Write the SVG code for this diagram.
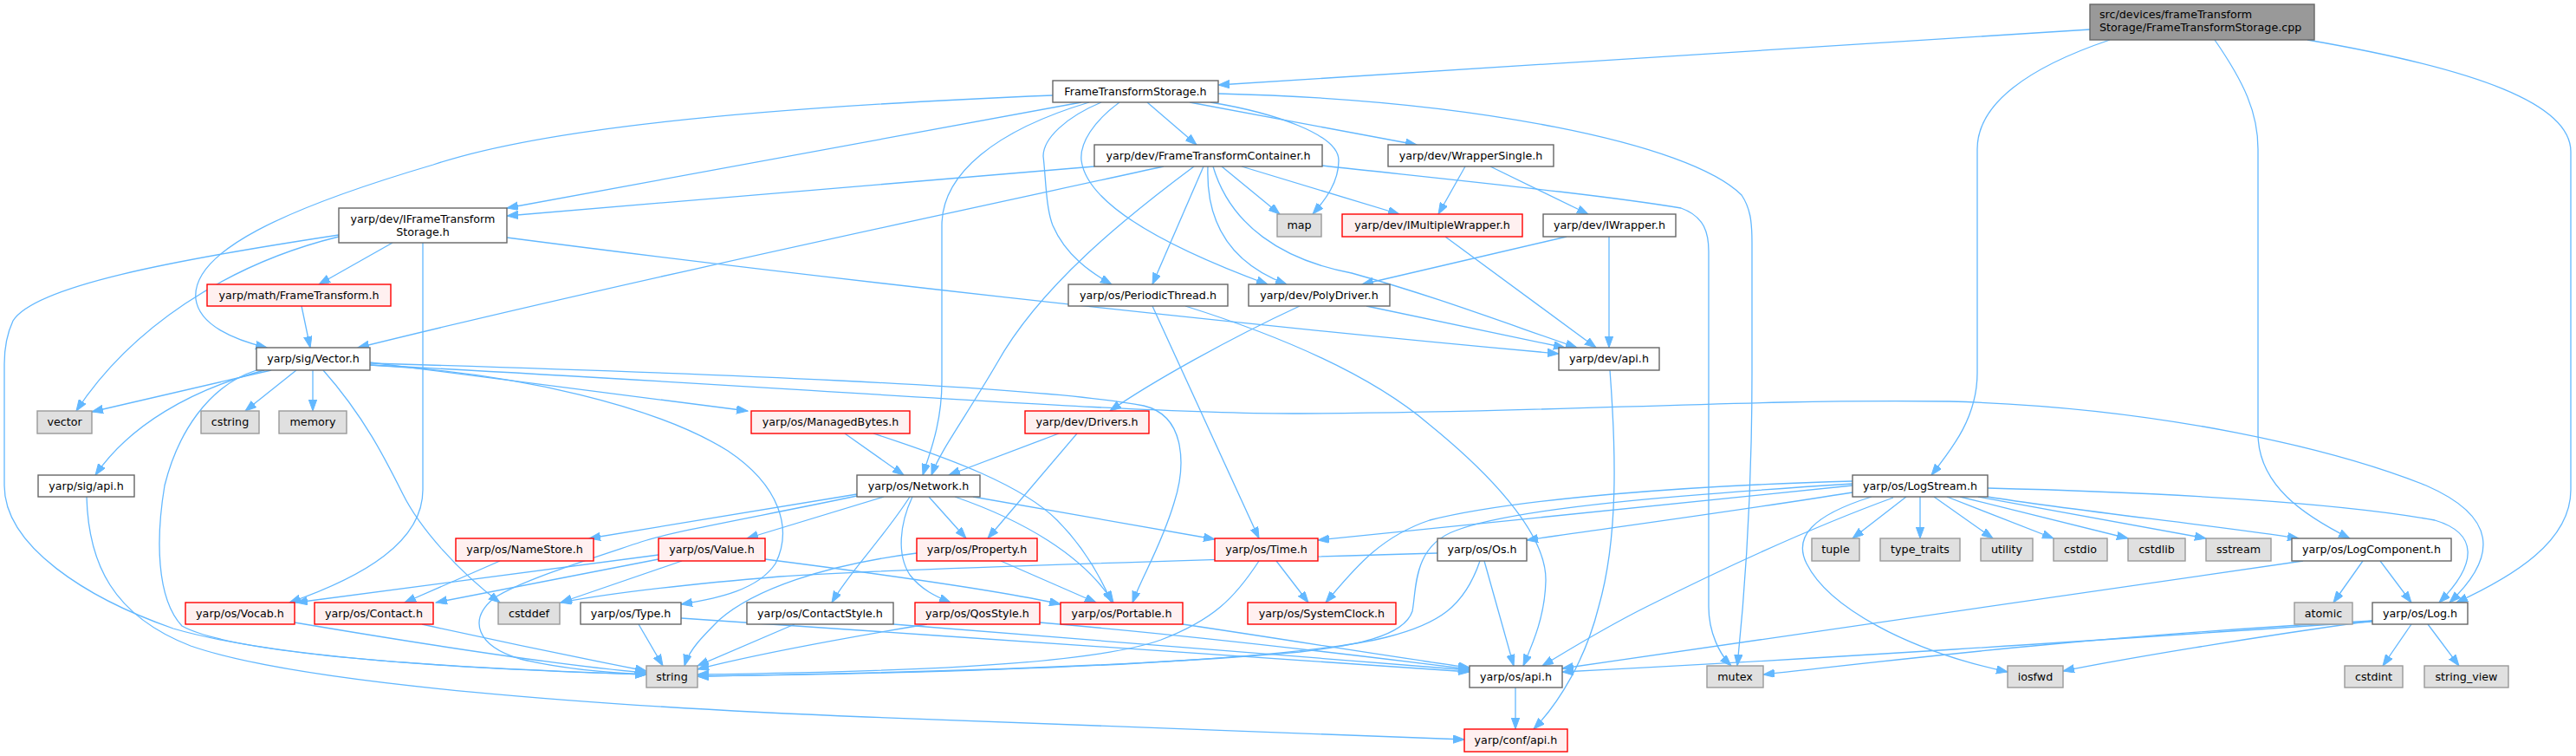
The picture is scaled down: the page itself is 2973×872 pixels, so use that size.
<svg xmlns="http://www.w3.org/2000/svg" width="2973" height="872" viewBox="0 0 2973 872">
<style>
.n{fill:#ffffff;stroke:#666666;stroke-width:1.4}
.r{fill:#fff0f0;stroke:#ff0000;stroke-width:1.4}
.x{fill:#e0e0e0;stroke:#999999;stroke-width:1.4}
.rt{fill:#999999;stroke:#666666;stroke-width:1.4}
text{font-family:"DejaVu Sans","Liberation Sans",sans-serif;font-size:12.7px;fill:#000000}
.c{text-anchor:middle}
#edges path{fill:none;stroke:#63b8ff;stroke-width:1.3;marker-end:url(#ah)}
</style>
<defs>
<marker id="ah" markerUnits="userSpaceOnUse" markerWidth="14" markerHeight="10" refX="13" refY="4.7" orient="auto">
<path d="M0,0 L13,4.7 L0,9.4 z" fill="#63b8ff" stroke="#63b8ff" stroke-width="1"/>
</marker>
</defs>
<rect width="2973" height="872" fill="#ffffff"/>
<g id="edges">
<path d="M2412,34 L1406,98"/>
<path d="M2435,46 C2340,78 2282,120 2282,172 L2282,430 C2282,480 2255,515 2229,548"/>
<path d="M2556,46 C2590,95 2606,130 2606,172 L2606,500 C2606,560 2660,595 2712,621"/>
<path d="M2663,46 C2860,80 2967,120 2967,175 L2967,565 C2967,625 2900,665 2835,695"/>
<path d="M1248,118 L585,240"/>
<path d="M1215,110 C850,125 620,150 500,190 C330,240 220,290 226,345 C230,375 270,392 308,401"/>
<path d="M1257,118 C1150,150 1087,200 1087,260 L1087,440 C1087,490 1072,525 1065,548"/>
<path d="M1271,118 C1230,135 1204,160 1204,180 C1207,205 1207,240 1215,260 C1230,295 1260,315 1283,328"/>
<path d="M1292,118 C1262,140 1246,165 1248,185 C1255,240 1360,290 1463,328"/>
<path d="M1324,118 L1381,167"/>
<path d="M1373,118 L1635,167"/>
<path d="M1397,118 C1470,130 1545,155 1545,185 C1545,210 1530,230 1515,247"/>
<path d="M1406,108 C1700,115 1950,165 2010,225 C2020,240 2022,255 2022,280 L2022,430 C2022,600 2010,720 2005,768"/>
<path d="M1263,192 L585,249"/>
<path d="M1343,192 C1100,245 700,330 413,401"/>
<path d="M1378,192 C1300,250 1200,330 1150,420 C1115,480 1085,520 1075,548"/>
<path d="M1389,192 L1330,328"/>
<path d="M1394,192 C1392,245 1410,300 1485,328"/>
<path d="M1400,192 C1420,260 1480,300 1560,315 C1650,340 1730,370 1820,401"/>
<path d="M1410,192 L1477,247"/>
<path d="M1433,192 L1615,247"/>
<path d="M1526,191 C1700,210 1850,225 1940,240 C1968,250 1972,270 1972,290 L1972,700 C1972,730 1985,755 1998,768"/>
<path d="M1691,192 L1660,247"/>
<path d="M1720,192 L1833,247"/>
<path d="M1668,273 L1842,401"/>
<path d="M1808,273 L1572,328"/>
<path d="M1857,273 L1857,401"/>
<path d="M1577,353 L1806,401"/>
<path d="M1500,353 C1420,390 1330,440 1281,474"/>
<path d="M585,274 C900,315 1400,372 1799,408"/>
<path d="M1330,353 L1453,621"/>
<path d="M1368,353 C1470,385 1580,430 1650,490 C1730,555 1785,620 1784,670 C1783,710 1770,740 1758,768"/>
<path d="M348,353 L358,401"/>
<path d="M453,280 L368,328"/>
<path d="M391,273 C260,305 150,380 88,474"/>
<path d="M391,271 C200,300 40,330 15,370 C8,385 5,400 5,420 L5,560 C5,630 100,690 200,725 C320,760 550,772 746,778"/>
<path d="M488,280 L488,565 C488,625 420,665 334,695"/>
<path d="M313,427 L106,475"/>
<path d="M305,427 C220,450 150,490 110,548"/>
<path d="M296,427 C240,445 205,500 190,560 C180,620 180,690 210,722 C270,755 500,770 746,778"/>
<path d="M342,427 L283,474"/>
<path d="M361,427 L361,474"/>
<path d="M373,427 C420,480 445,530 465,570 C485,610 530,660 577,695"/>
<path d="M427,418 C600,440 750,460 863,474"/>
<path d="M427,421 C600,430 760,470 840,520 C900,560 915,610 895,650 C875,680 830,690 786,697"/>
<path d="M427,419 C800,430 1200,445 1320,468 C1370,480 1368,540 1355,580 C1340,630 1318,665 1307,695"/>
<path d="M427,421 C900,445 1300,478 1500,477 C1800,476 2000,460 2250,463 C2500,470 2700,520 2800,560 C2880,595 2885,640 2827,695"/>
<path d="M100,573 C102,650 130,710 220,745 C350,790 700,815 1000,827 C1300,840 1500,847 1690,853"/>
<path d="M975,500 L1043,548"/>
<path d="M1008,500 C1100,530 1180,560 1220,600 C1250,630 1270,665 1283,695"/>
<path d="M1222,500 L1095,548"/>
<path d="M1243,500 L1140,621"/>
<path d="M989,570 L680,621"/>
<path d="M1020,573 L862,621"/>
<path d="M989,572 C880,595 780,612 740,625 C680,645 600,670 570,690 C540,715 550,745 600,760 C650,772 700,776 746,778"/>
<path d="M1050,573 C1020,620 980,660 960,695"/>
<path d="M1053,573 C1038,605 1035,640 1050,663 C1063,680 1080,688 1097,695"/>
<path d="M1072,573 L1115,621"/>
<path d="M1102,573 C1180,600 1250,640 1285,695"/>
<path d="M1123,573 L1402,622"/>
<path d="M577,647 L467,695"/>
<path d="M760,640 C600,660 450,680 342,695"/>
<path d="M760,645 L503,695"/>
<path d="M787,647 L647,695"/>
<path d="M883,645 C1000,660 1150,680 1224,697"/>
<path d="M1155,647 L1265,695"/>
<path d="M1058,638 C950,652 870,680 830,715 C810,735 795,750 790,768"/>
<path d="M1473,647 L1510,695"/>
<path d="M1453,647 C1425,690 1400,715 1340,738 C1250,770 1000,775 805,778"/>
<path d="M1713,647 L1747,768"/>
<path d="M1708,647 C1690,700 1660,720 1600,735 C1500,760 1200,775 805,780"/>
<path d="M1659,638 C1300,648 1000,658 900,665 C780,675 700,685 647,695"/>
<path d="M340,718 C500,745 650,768 746,776"/>
<path d="M487,720 C600,745 700,765 746,774"/>
<path d="M737,720 L765,768"/>
<path d="M786,713 C1100,735 1500,760 1696,775"/>
<path d="M917,720 L805,768"/>
<path d="M1031,720 C1300,740 1550,760 1696,773"/>
<path d="M1070,720 C950,740 870,755 805,772"/>
<path d="M1200,718 C1400,735 1600,760 1696,772"/>
<path d="M1365,720 C1500,740 1620,760 1696,770"/>
<path d="M2200,573 L2138,621"/>
<path d="M2216,573 L2216,621"/>
<path d="M2232,573 L2300,621"/>
<path d="M2247,573 L2370,621"/>
<path d="M2262,573 L2456,621"/>
<path d="M2283,573 L2546,621"/>
<path d="M2294,573 C2400,590 2550,605 2653,621"/>
<path d="M2294,563 C2500,568 2700,580 2810,600 C2860,615 2860,650 2815,695"/>
<path d="M2160,573 C2090,595 2070,620 2085,650 C2110,700 2200,750 2317,775"/>
<path d="M2185,574 C2100,605 2000,650 1900,700 C1850,725 1810,750 1780,768"/>
<path d="M2138,568 C2000,590 1850,610 1762,623"/>
<path d="M2138,560 L1521,623"/>
<path d="M2138,555 C1950,560 1750,575 1650,600 C1590,620 1560,660 1530,695"/>
<path d="M2138,558 C1950,570 1750,585 1680,612 C1630,630 1635,680 1630,705 C1620,735 1560,745 1500,752 C1300,770 1000,777 805,780"/>
<path d="M2727,647 L2693,695"/>
<path d="M2747,647 L2783,695"/>
<path d="M2658,647 L1803,771"/>
<path d="M2783,720 L2750,768"/>
<path d="M2802,720 L2838,768"/>
<path d="M2738,717 C2400,740 2100,760 1803,775"/>
<path d="M2738,716 C2400,735 2200,760 2035,778"/>
<path d="M2738,716 C2600,735 2450,760 2381,774"/>
<path d="M1858,427 C1865,520 1868,620 1845,700 C1830,760 1800,810 1770,841"/>
<path d="M1749,793 L1749,841"/>
</g>
<g id="root"><rect class="rt" x="2412" y="5" width="259" height="41"/><text x="2423" y="21">src/devices/frameTransform</text><text x="2423" y="36">Storage/FrameTransformStorage.cpp</text></g>
<g id="fts"><rect class="n" x="1215" y="93" width="191" height="25"/><text class="c" x="1310.5" y="110">FrameTransformStorage.h</text></g>
<g id="ftc"><rect class="n" x="1263" y="167" width="263" height="25"/><text class="c" x="1394.5" y="184">yarp/dev/FrameTransformContainer.h</text></g>
<g id="wrapsingle"><rect class="n" x="1602" y="167" width="191" height="25"/><text class="c" x="1697.5" y="184">yarp/dev/WrapperSingle.h</text></g>
<g id="ifts"><rect class="n" x="391" y="240" width="194" height="40"/><text class="c" x="488" y="257">yarp/dev/IFrameTransform</text><text class="c" x="488" y="272">Storage.h</text></g>
<g id="map"><rect class="x" x="1474" y="247" width="51" height="26"/><text class="c" x="1499.5" y="264">map</text></g>
<g id="imultwrap"><rect class="r" x="1549" y="247" width="208" height="26"/><text class="c" x="1653" y="264">yarp/dev/IMultipleWrapper.h</text></g>
<g id="iwrapper"><rect class="n" x="1781" y="247" width="153" height="26"/><text class="c" x="1857.5" y="264">yarp/dev/IWrapper.h</text></g>
<g id="mathft"><rect class="r" x="239" y="328" width="212" height="25"/><text class="c" x="345" y="345">yarp/math/FrameTransform.h</text></g>
<g id="periodic"><rect class="n" x="1233" y="328" width="184" height="25"/><text class="c" x="1325" y="345">yarp/os/PeriodicThread.h</text></g>
<g id="polydriver"><rect class="n" x="1441" y="328" width="163" height="25"/><text class="c" x="1522.5" y="345">yarp/dev/PolyDriver.h</text></g>
<g id="sigvector"><rect class="n" x="296" y="401" width="131" height="26"/><text class="c" x="361.5" y="418">yarp/sig/Vector.h</text></g>
<g id="devapi"><rect class="n" x="1799" y="401" width="116" height="26"/><text class="c" x="1857" y="418">yarp/dev/api.h</text></g>
<g id="vector"><rect class="x" x="43" y="474" width="63" height="26"/><text class="c" x="74.5" y="491">vector</text></g>
<g id="cstring"><rect class="x" x="232" y="474" width="67" height="26"/><text class="c" x="265.5" y="491">cstring</text></g>
<g id="memory"><rect class="x" x="322" y="474" width="78" height="26"/><text class="c" x="361" y="491">memory</text></g>
<g id="managedbytes"><rect class="r" x="867" y="474" width="183" height="26"/><text class="c" x="958.5" y="491">yarp/os/ManagedBytes.h</text></g>
<g id="drivers"><rect class="r" x="1183" y="474" width="143" height="26"/><text class="c" x="1254.5" y="491">yarp/dev/Drivers.h</text></g>
<g id="sigapi"><rect class="n" x="44" y="548" width="111" height="25"/><text class="c" x="99.5" y="565">yarp/sig/api.h</text></g>
<g id="network"><rect class="n" x="989" y="548" width="142" height="25"/><text class="c" x="1060" y="565">yarp/os/Network.h</text></g>
<g id="logstream"><rect class="n" x="2138" y="548" width="156" height="25"/><text class="c" x="2216" y="565">yarp/os/LogStream.h</text></g>
<g id="namestore"><rect class="r" x="526" y="621" width="159" height="26"/><text class="c" x="605.5" y="638">yarp/os/NameStore.h</text></g>
<g id="value"><rect class="r" x="760" y="621" width="123" height="26"/><text class="c" x="821.5" y="638">yarp/os/Value.h</text></g>
<g id="property"><rect class="r" x="1058" y="621" width="139" height="26"/><text class="c" x="1127.5" y="638">yarp/os/Property.h</text></g>
<g id="time"><rect class="r" x="1402" y="621" width="119" height="26"/><text class="c" x="1461.5" y="638">yarp/os/Time.h</text></g>
<g id="os"><rect class="n" x="1659" y="621" width="103" height="26"/><text class="c" x="1710.5" y="638">yarp/os/Os.h</text></g>
<g id="tuple"><rect class="x" x="2091" y="621" width="55" height="26"/><text class="c" x="2118.5" y="638">tuple</text></g>
<g id="typetraits"><rect class="x" x="2170" y="621" width="92" height="26"/><text class="c" x="2216" y="638">type_traits</text></g>
<g id="utility"><rect class="x" x="2286" y="621" width="60" height="26"/><text class="c" x="2316" y="638">utility</text></g>
<g id="cstdio"><rect class="x" x="2370" y="621" width="62" height="26"/><text class="c" x="2401" y="638">cstdio</text></g>
<g id="cstdlib"><rect class="x" x="2456" y="621" width="66" height="26"/><text class="c" x="2489" y="638">cstdlib</text></g>
<g id="sstream"><rect class="x" x="2546" y="621" width="75" height="26"/><text class="c" x="2583.5" y="638">sstream</text></g>
<g id="logcomponent"><rect class="n" x="2645" y="621" width="184" height="26"/><text class="c" x="2737" y="638">yarp/os/LogComponent.h</text></g>
<g id="vocab"><rect class="r" x="214" y="695" width="126" height="25"/><text class="c" x="277" y="712">yarp/os/Vocab.h</text></g>
<g id="contact"><rect class="r" x="363" y="695" width="137" height="25"/><text class="c" x="431.5" y="712">yarp/os/Contact.h</text></g>
<g id="cstddef"><rect class="x" x="575" y="695" width="71" height="25"/><text class="c" x="610.5" y="712">cstddef</text></g>
<g id="type"><rect class="n" x="670" y="695" width="116" height="25"/><text class="c" x="728" y="712">yarp/os/Type.h</text></g>
<g id="contactstyle"><rect class="n" x="862" y="695" width="169" height="25"/><text class="c" x="946.5" y="712">yarp/os/ContactStyle.h</text></g>
<g id="qosstyle"><rect class="r" x="1056" y="695" width="144" height="25"/><text class="c" x="1128" y="712">yarp/os/QosStyle.h</text></g>
<g id="portable"><rect class="r" x="1224" y="695" width="141" height="25"/><text class="c" x="1294.5" y="712">yarp/os/Portable.h</text></g>
<g id="systemclock"><rect class="r" x="1440" y="695" width="171" height="25"/><text class="c" x="1525.5" y="712">yarp/os/SystemClock.h</text></g>
<g id="atomic"><rect class="x" x="2648" y="695" width="67" height="25"/><text class="c" x="2681.5" y="712">atomic</text></g>
<g id="log"><rect class="n" x="2738" y="695" width="110" height="25"/><text class="c" x="2793" y="712">yarp/os/Log.h</text></g>
<g id="string"><rect class="x" x="746" y="768" width="59" height="25"/><text class="c" x="775.5" y="785">string</text></g>
<g id="osapi"><rect class="n" x="1696" y="768" width="107" height="25"/><text class="c" x="1749.5" y="785">yarp/os/api.h</text></g>
<g id="mutex"><rect class="x" x="1970" y="768" width="65" height="25"/><text class="c" x="2002.5" y="785">mutex</text></g>
<g id="iosfwd"><rect class="x" x="2317" y="768" width="64" height="25"/><text class="c" x="2349" y="785">iosfwd</text></g>
<g id="cstdint"><rect class="x" x="2706" y="768" width="67" height="25"/><text class="c" x="2739.5" y="785">cstdint</text></g>
<g id="stringview"><rect class="x" x="2798" y="768" width="97" height="25"/><text class="c" x="2846.5" y="785">string_view</text></g>
<g id="confapi"><rect class="r" x="1690" y="841" width="119" height="26"/><text class="c" x="1749.5" y="858">yarp/conf/api.h</text></g>
</svg>
